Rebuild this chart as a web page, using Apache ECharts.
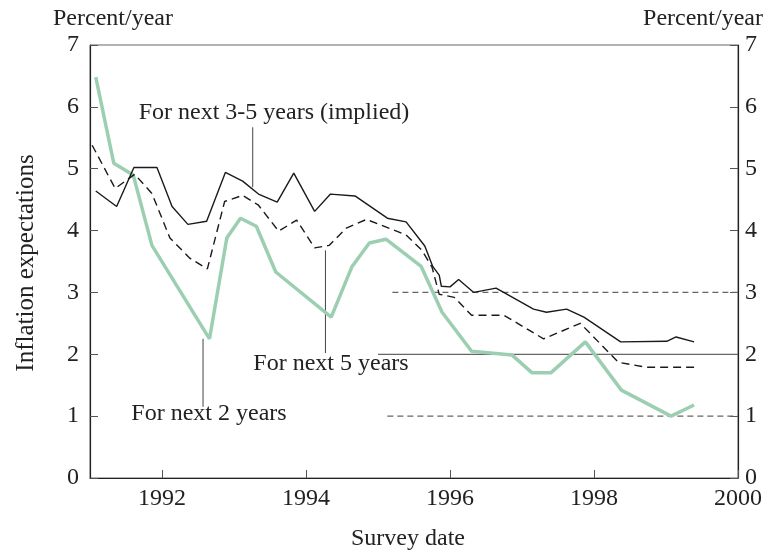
<!DOCTYPE html>
<html>
<head>
<meta charset="utf-8">
<script src="https://cdn.jsdelivr.net/npm/echarts@6/dist/echarts.min.js"></script>
<style>
  html, body { margin: 0; padding: 0; background: #fff; }
  #main { width: 765px; height: 553px; }
</style>
</head>
<body>
<div id="main"></div>
<script>
// survey dates (decimal years) and values
var implied35 = [
  [1991.08, 4.64], [1991.37, 4.39], [1991.61, 5.02], [1991.93, 5.02], [1992.14, 4.39],
  [1992.36, 4.10], [1992.62, 4.15], [1992.88, 4.94], [1993.12, 4.80], [1993.34, 4.59],
  [1993.60, 4.46], [1993.83, 4.93], [1994.12, 4.31], [1994.34, 4.59], [1994.68, 4.56],
  [1995.13, 4.20], [1995.39, 4.14], [1995.65, 3.75], [1995.76, 3.42], [1995.85, 3.28],
  [1995.88, 3.10], [1996.00, 3.09], [1996.12, 3.21], [1996.33, 3.00], [1996.64, 3.07],
  [1997.16, 2.73], [1997.34, 2.68], [1997.62, 2.73], [1997.86, 2.60], [1998.37, 2.20],
  [1999.01, 2.21], [1999.14, 2.28], [1999.39, 2.20]
];
var next5 = [
  [1991.03, 5.38], [1991.35, 4.68], [1991.62, 4.91], [1991.86, 4.60], [1992.11, 3.88],
  [1992.39, 3.55], [1992.63, 3.38], [1992.87, 4.47], [1993.12, 4.57], [1993.34, 4.41],
  [1993.62, 3.99], [1993.87, 4.17], [1994.12, 3.72], [1994.32, 3.76], [1994.56, 4.04],
  [1994.84, 4.18], [1995.39, 3.93], [1995.61, 3.68], [1995.75, 3.41], [1995.85, 2.97],
  [1996.06, 2.92], [1996.30, 2.63], [1996.75, 2.63], [1997.30, 2.25], [1997.81, 2.50],
  [1998.34, 1.87], [1998.73, 1.79], [1999.39, 1.79]
];
var next2 = [
  [1991.08, 6.48], [1991.33, 5.09], [1991.60, 4.90], [1991.86, 3.76], [1992.66, 2.25],
  [1992.90, 3.88], [1993.09, 4.20], [1993.31, 4.07], [1993.58, 3.33], [1994.35, 2.60],
  [1994.64, 3.42], [1994.88, 3.80], [1995.11, 3.86], [1995.60, 3.42], [1995.89, 2.68],
  [1996.30, 2.05], [1996.86, 1.99], [1997.14, 1.70], [1997.40, 1.70], [1997.88, 2.20],
  [1998.38, 1.42], [1999.07, 1.00], [1999.39, 1.18]
];
// reference levels from 1995 on
var bandMid = [[1995.0, 2], [2000, 2]];
var bandTop = [[1995.2, 3], [2000, 3]];
var bandLow = [[1995.13, 1], [2000, 1]];
// leader lines from labels to the series
var leader35 = [[1993.26, 5.67], [1993.26, 4.70]];
var leader5 = [[1994.27, 3.68], [1994.27, 2.02]];
var leader2 = [[1992.57, 2.25], [1992.57, 1.15]];

var xTicks = [1992, 1994, 1996, 1998, 2000];

var FONT = 'Liberation Serif';
var TXT = '#222';
var F24 = '24px "Liberation Serif"';

var myChart = echarts.init(document.getElementById('main'));

function yAxisCfg(pos) {
  return {
    type: 'value', position: pos, min: 0, max: 7, interval: 1,
    axisLine: { show: true, lineStyle: { color: '#222', width: 1.2 } },
    axisTick: { show: true, inside: true, length: 8, lineStyle: { color: '#555' } },
    axisLabel: { color: TXT, fontFamily: FONT, fontSize: 24, margin: pos === 'left' ? 11 : 7 },
    splitLine: { show: false }
  };
}

function refLine(data, type) {
  return {
    type: 'line', data: data, symbol: 'none', silent: true, z: 1,
    lineStyle: { color: '#666', width: 1.2, type: type }
  };
}

var option = {
  animation: false,
  grid: { left: 90, right: 25, top: 45, bottom: 75, show: true, borderColor: '#666', borderWidth: 1 },
  xAxis: {
    type: 'value', min: 1991, max: 2000,
    axisLine: { show: true, lineStyle: { color: '#222', width: 1.2 } },
    axisTick: { show: true, inside: true, length: 8, customValues: xTicks, lineStyle: { color: '#555' } },
    axisLabel: {
      color: TXT, fontFamily: FONT, fontSize: 24, margin: 9, customValues: xTicks,
      formatter: function (v) { return String(v); }
    },
    splitLine: { show: false }
  },
  yAxis: [yAxisCfg('left'), yAxisCfg('right')],
  series: [
    refLine(bandTop, [6, 4]),
    refLine(bandMid, 'solid'),
    refLine(bandLow, [6, 4]),
    { type: 'line', data: leader35, symbol: 'none', silent: true, lineStyle: { color: '#444', width: 1 } },
    { type: 'line', data: leader5, symbol: 'none', silent: true, lineStyle: { color: '#444', width: 1 } },
    { type: 'line', data: leader2, symbol: 'none', silent: true, lineStyle: { color: '#444', width: 1 } },
    {
      name: 'For next 2 years', type: 'line', data: next2, symbol: 'none', z: 3,
      lineStyle: { color: '#9ccfb1', width: 3.5 }
    },
    {
      name: 'For next 5 years', type: 'line', data: next5, symbol: 'none', z: 4,
      lineStyle: { color: '#1a1a1a', width: 1.4, type: [8, 5] }
    },
    {
      name: 'For next 3-5 years (implied)', type: 'line', data: implied35, symbol: 'none', z: 5,
      lineStyle: { color: '#1a1a1a', width: 1.4 }
    }
  ],
  graphic: [
    { type: 'text', left: 53, top: 7, style: { text: 'Percent/year', fill: TXT, font: F24 } },
    { type: 'text', right: 2, top: 7, style: { text: 'Percent/year', fill: TXT, font: F24 } },
    { type: 'text', x: 26, y: 263, rotation: Math.PI / 2,
      style: { text: 'Inflation expectations', fill: TXT, font: '25px "Liberation Serif"', align: 'center', verticalAlign: 'middle' } },
    { type: 'text', x: 408, y: 539,
      style: { text: 'Survey date', fill: TXT, font: F24, align: 'center', verticalAlign: 'middle' } },
    { type: 'text', x: 274, y: 113,
      style: { text: 'For next 3-5 years (implied)', fill: TXT, font: F24, align: 'center', verticalAlign: 'middle' } },
    { type: 'text', x: 331, y: 364,
      style: { text: 'For next 5 years', fill: TXT, font: F24, align: 'center', verticalAlign: 'middle' } },
    { type: 'text', x: 209, y: 414,
      style: { text: 'For next 2 years', fill: TXT, font: F24, align: 'center', verticalAlign: 'middle' } }
  ]
};

myChart.setOption(option);
window.onresize = function () {
  myChart.resize();
};
</script>
</body>
</html>
